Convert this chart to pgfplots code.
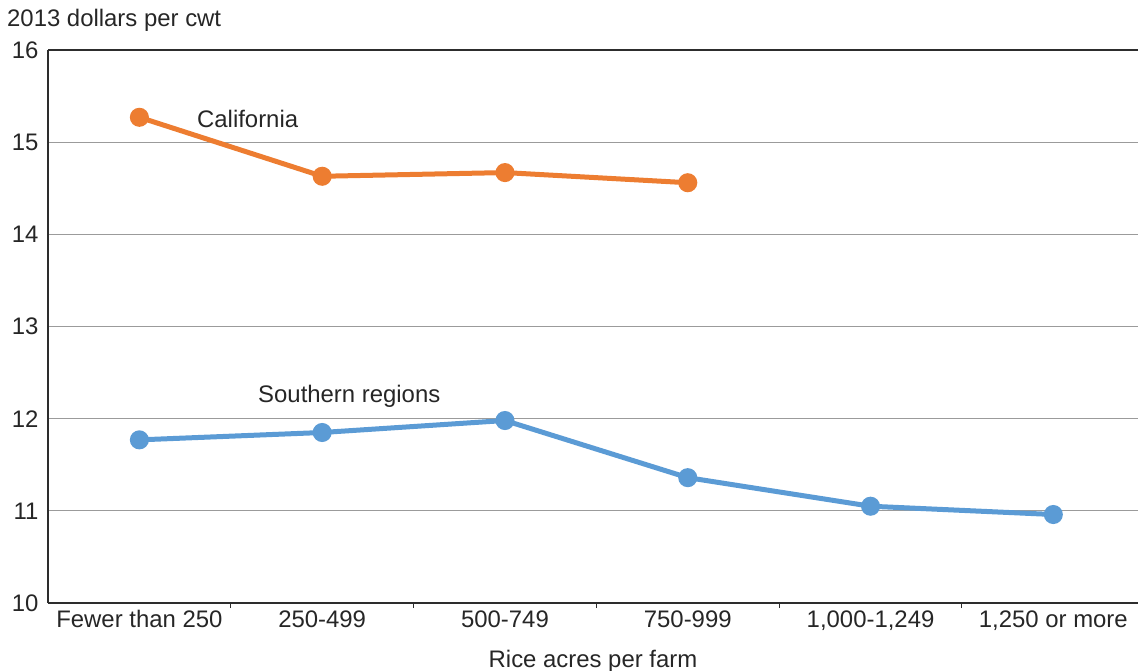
\documentclass[border=0pt]{standalone}
\usepackage{pgfplots}
\pgfplotsset{compat=1.18}
\usepackage{fontspec}
\setmainfont{Liberation Sans}
\definecolor{calor}{RGB}{237,125,49}
\definecolor{soblue}{RGB}{91,155,213}
\definecolor{axisgray}{RGB}{45,45,45}
\definecolor{gridgray}{RGB}{155,155,155}
\newcommand{\lblfont}{\fontsize{24}{28}\selectfont}
\begin{document}
\begin{tikzpicture}
\begin{axis}[
  scale only axis, width=1090bp, height=553bp,
  xmin=-0.5, xmax=5.463, ymin=10, ymax=16,
  ytick={10,11,12,13,14,15,16},
  xtick={0,1,2,3,4,5},
  xticklabels={Fewer than 250, 250-499, 500-749, 750-999, {1,000-1,249}, {1,250 or more}},
  extra x ticks={0.5,1.5,2.5,3.5,4.5},
  extra x tick labels={},
  extra x tick style={major tick length=5bp, tick align=outside, tick style={axisgray, line width=1bp}},
  major tick length=0pt,
  axis x line*=bottom, axis y line*=left,
  axis line style={axisgray, line width=1.6bp, -},
  ymajorgrids, grid style={gridgray, line width=0.8bp},
  tick label style={font=\lblfont, text=black!85},
  /pgf/number format/assume math mode=true,
  xticklabel style={yshift=-4bp},
  yticklabel style={xshift=-6bp},
  clip=false,
]
\addplot[calor, line width=5bp, mark=*, mark size=7bp, mark options={solid, fill=calor}]
  coordinates {(0,15.27) (1,14.63) (2,14.67) (3,14.56)};
\addplot[soblue, line width=5bp, mark=*, mark size=7bp, mark options={solid, fill=soblue}]
  coordinates {(0,11.77) (1,11.85) (2,11.98) (3,11.36) (4,11.05) (5,10.96)};
\draw[axisgray, line width=1.3bp] (axis cs:-0.5,16) -- (axis cs:5.463,16);
\node[anchor=west, inner sep=0pt, font=\lblfont, text=black!85] at (axis cs:0.315,15.25) {California};
\node[anchor=west, inner sep=0pt, font=\lblfont, text=black!85] at (axis cs:0.649,12.24) {Southern regions};
\node[anchor=base west, inner sep=0pt, font=\lblfont, text=black!85] at ([xshift=-41bp, yshift=24bp]rel axis cs:0,1) {2013 dollars per cwt};
\node[anchor=base, inner sep=0pt, font=\lblfont, text=black!85] at ([yshift=-64bp]rel axis cs:0.5,0) {Rice acres per farm};
\coordinate (O) at (rel axis cs:0,0);
\end{axis}
\pgfresetboundingbox
\path (O) ++(-48bp,-68bp) rectangle ++(1138bp,671bp);
\end{tikzpicture}
\end{document}
